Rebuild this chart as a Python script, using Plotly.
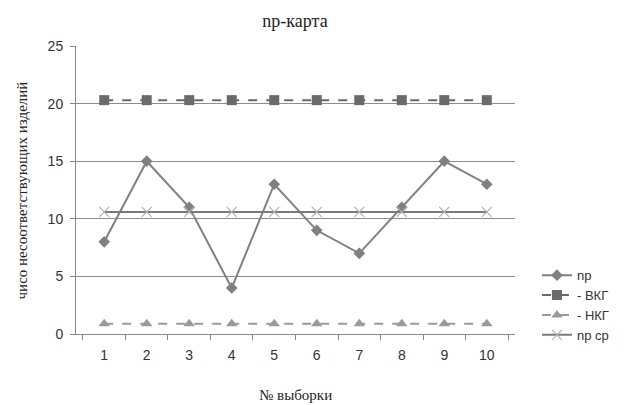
import plotly.graph_objects as go

samples = ["1", "2", "3", "4", "5", "6", "7", "8", "9", "10"]
np_values = [8, 15, 11, 4, 13, 9, 7, 11, 15, 13]
ucl_values = [20.3] * 10
lcl_values = [0.9] * 10
mean_values = [10.6] * 10

fig = go.Figure()
fig.add_trace(go.Scatter(x=samples, y=np_values, name="np", mode="lines+markers",
                         line=dict(color="#808080", width=2),
                         marker=dict(symbol="diamond", size=9, color="#808080")))
fig.add_trace(go.Scatter(x=samples, y=ucl_values, name="- ВКГ", mode="lines+markers",
                         line=dict(color="#6a6a6a", width=2, dash="dash"),
                         marker=dict(symbol="square", size=10, color="#6a6a6a")))
fig.add_trace(go.Scatter(x=samples, y=lcl_values, name="- НКГ", mode="lines+markers",
                         line=dict(color="#9a9a9a", width=2, dash="dash"),
                         marker=dict(symbol="triangle-up", size=10, color="#9a9a9a")))
fig.add_trace(go.Scatter(x=samples, y=mean_values, name="np ср", mode="lines+markers",
                         line=dict(color="#7a7a7a", width=2),
                         marker=dict(symbol="x-thin", size=10, color="#b0b0b0",
                                     line=dict(width=1.2, color="#b0b0b0"))))

fig.update_layout(
    width=633, height=405,
    margin=dict(l=76, r=118, t=46, b=71, autoexpand=False),
    paper_bgcolor="white", plot_bgcolor="white",
    title=dict(text="np-карта", x=0.466, xanchor="center", y=0.95, yanchor="middle",
               font=dict(family="Liberation Serif", size=18, color="#222")),
    font=dict(family="Liberation Sans", size=14, color="#333"),
    legend=dict(x=1.05, y=0.1, xanchor="left", yanchor="middle",
                font=dict(family="Liberation Sans", size=13, color="#333"),
                tracegroupgap=4, itemwidth=30, bgcolor="rgba(0,0,0,0)"),
    showlegend=True,
    annotations=[
        dict(text="№ выборки", xref="paper", yref="paper", x=0.5, y=-0.212,
             xanchor="center", yanchor="middle", showarrow=False,
             font=dict(family="Liberation Serif", size=15, color="#222")),
        dict(text="чисо несоответствующих изделий", xref="paper", yref="paper",
             x=-0.122, y=0.5, xanchor="center", yanchor="middle", showarrow=False,
             textangle=-90, font=dict(family="Liberation Serif", size=15, color="#222")),
    ],
)
fig.update_xaxes(type="category", tickson="boundaries", ticks="outside", ticklen=5,
                 tickcolor="#888", showline=True, linecolor="#888", linewidth=1,
                 showgrid=False, automargin=False, ticklabelstandoff=8)
fig.update_yaxes(range=[0, 25], dtick=5, showgrid=True, gridcolor="#8c8c8c", gridwidth=1,
                 showline=True, linecolor="#888", ticks="outside", ticklen=5, tickcolor="#888",
                 zeroline=False, automargin=False, ticklabelstandoff=4)

fig.write_html("out.html")
